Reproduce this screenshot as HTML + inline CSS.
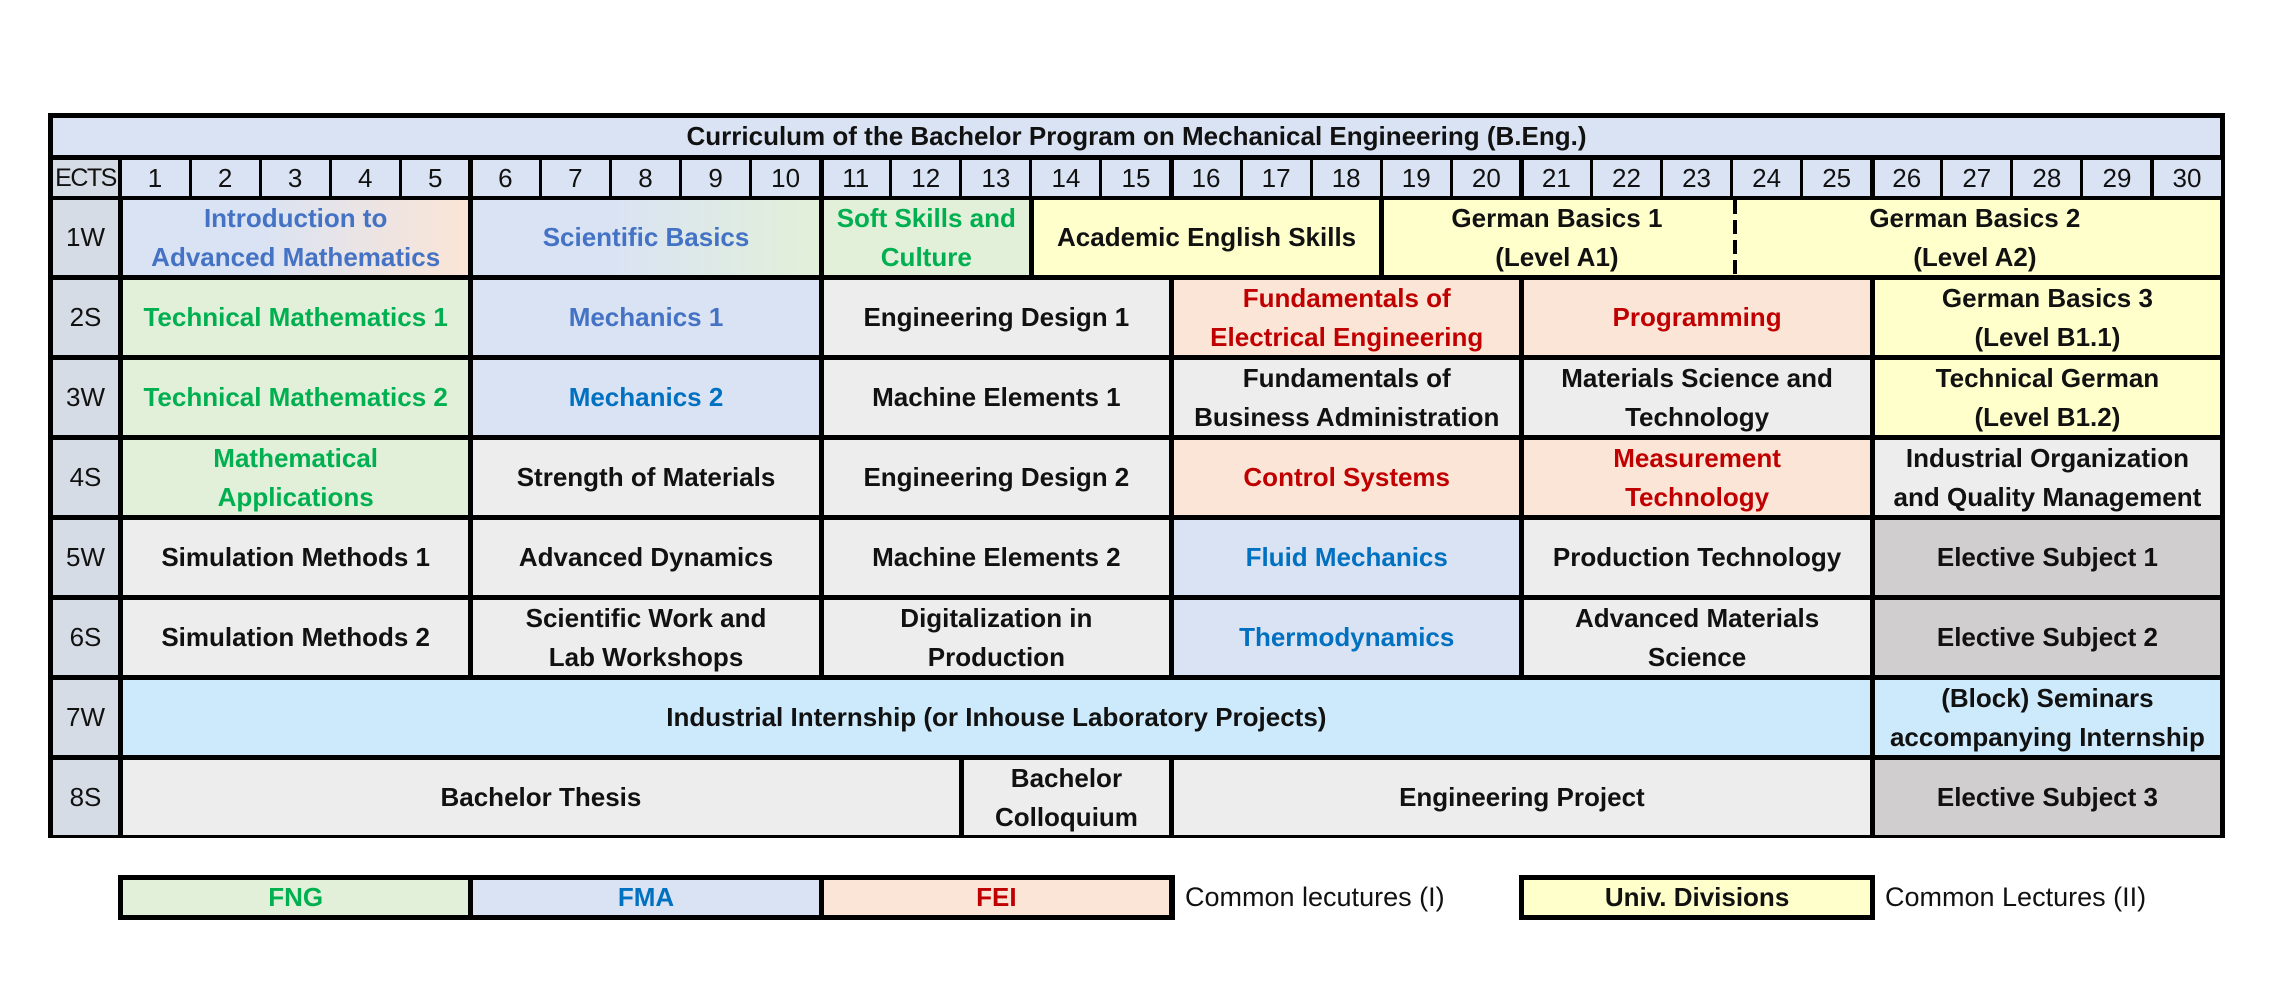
<!DOCTYPE html>
<html><head><meta charset="utf-8"><style>
body{margin:0;width:2287px;height:1003px;background:#fff;position:relative;overflow:hidden;font-family:"Liberation Sans",sans-serif}
div{box-sizing:border-box}
.k{position:absolute;background:#000}
.c{position:absolute;left:calc(123px + var(--a)*70.07px);width:calc((var(--b) - var(--a))*70.07px - 5px);top:calc(200px + var(--r)*80px);height:75px;display:flex;align-items:center;justify-content:center;text-align:center;font-weight:bold;font-size:26px;line-height:39px;background:#ededed;color:#111;white-space:nowrap}
.h{position:absolute;top:160px;height:36px;left:calc(121.5px + var(--a)*70.07px);width:67px;background:#dae3f3;display:flex;align-items:center;justify-content:center;font-size:26px;color:#111}
.l{position:absolute;left:53px;width:65px;top:calc(200px + var(--r)*80px);height:75px;background:#d6dce5;display:flex;align-items:center;justify-content:center;font-size:26px;color:#111}
.g{background:#e2f0d9;color:#00b050}.b{background:#dae3f3;color:#4472c4}.b2{background:#dae3f3;color:#0070c0}
.p{background:#fbe5d6;color:#c00000}.y{background:#ffffcc}.d{background:#d0cece}.lb{background:#cdeafc}
.bar{position:absolute;top:155px;height:46px;width:5px;background:#000;left:calc(118px + var(--a)*70.07px)}
.t{position:absolute;font-size:27px;color:#111;top:880px;height:35px;line-height:35px}
</style></head><body>
<div class="k" style="left:48px;top:113px;width:2177px;height:725px"></div>
<div style="position:absolute;left:53px;top:118px;width:2167px;height:37px;background:#dae3f3;display:flex;align-items:center;justify-content:center;font-weight:bold;font-size:26px;color:#111">Curriculum of the Bachelor Program on Mechanical Engineering (B.Eng.)</div>
<div style="position:absolute;left:53px;top:160px;width:65px;height:36px;background:#d6dce5;display:flex;align-items:center;justify-content:center;font-size:25px;color:#111;letter-spacing:-1.5px">ECTS</div>
<div class="h" style="--a:0">1</div><div class="h" style="--a:1">2</div><div class="h" style="--a:2">3</div><div class="h" style="--a:3">4</div><div class="h" style="--a:4">5</div>
<div class="h" style="--a:5">6</div><div class="h" style="--a:6">7</div><div class="h" style="--a:7">8</div><div class="h" style="--a:8">9</div><div class="h" style="--a:9">10</div>
<div class="h" style="--a:10">11</div><div class="h" style="--a:11">12</div><div class="h" style="--a:12">13</div><div class="h" style="--a:13">14</div><div class="h" style="--a:14">15</div>
<div class="h" style="--a:15">16</div><div class="h" style="--a:16">17</div><div class="h" style="--a:17">18</div><div class="h" style="--a:18">19</div><div class="h" style="--a:19">20</div>
<div class="h" style="--a:20">21</div><div class="h" style="--a:21">22</div><div class="h" style="--a:22">23</div><div class="h" style="--a:23">24</div><div class="h" style="--a:24">25</div>
<div class="h" style="--a:25">26</div><div class="h" style="--a:26">27</div><div class="h" style="--a:27">28</div><div class="h" style="--a:28">29</div><div class="h" style="--a:29">30</div>
<div class="bar" style="--a:5"></div><div class="bar" style="--a:10"></div><div class="bar" style="--a:15"></div><div class="bar" style="--a:20"></div><div class="bar" style="--a:25"></div>

<div class="l" style="--r:0">1W</div><div class="l" style="--r:1">2S</div><div class="l" style="--r:2">3W</div><div class="l" style="--r:3">4S</div>
<div class="l" style="--r:4">5W</div><div class="l" style="--r:5">6S</div><div class="l" style="--r:6">7W</div><div class="l" style="--r:7">8S</div>

<div class="c b" style="--r:0;--a:0;--b:5;background:linear-gradient(90deg,#dae3f3 40%,#fbe5d6)">Introduction to<br>Advanced Mathematics</div>
<div class="c b" style="--r:0;--a:5;--b:10;background:linear-gradient(90deg,#dae3f3 40%,#e2f0d9)">Scientific Basics</div>
<div class="c g" style="--r:0;--a:10;--b:13">Soft Skills and<br>Culture</div>
<div class="c y" style="--r:0;--a:13;--b:18">Academic English Skills</div>
<div class="c y" style="--r:0;--a:18;--b:30;justify-content:flex-start;padding:0"><div style="width:calc(5*70.07px - 5px);text-align:center">German Basics 1<br>(Level A1)</div><div style="width:calc(7*70.07px);text-align:center">German Basics 2<br>(Level A2)</div></div>
<div style="position:absolute;left:calc(121px + 23*70.07px);top:200px;width:4px;height:75px;background:repeating-linear-gradient(180deg,#000 0 14px,transparent 14px 20px)"></div>

<div class="c g" style="--r:1;--a:0;--b:5">Technical Mathematics 1</div>
<div class="c b" style="--r:1;--a:5;--b:10">Mechanics 1</div>
<div class="c" style="--r:1;--a:10;--b:15">Engineering Design 1</div>
<div class="c p" style="--r:1;--a:15;--b:20">Fundamentals of<br>Electrical Engineering</div>
<div class="c p" style="--r:1;--a:20;--b:25">Programming</div>
<div class="c y" style="--r:1;--a:25;--b:30">German Basics 3<br>(Level B1.1)</div>

<div class="c g" style="--r:2;--a:0;--b:5">Technical Mathematics 2</div>
<div class="c b2" style="--r:2;--a:5;--b:10">Mechanics 2</div>
<div class="c" style="--r:2;--a:10;--b:15">Machine Elements 1</div>
<div class="c" style="--r:2;--a:15;--b:20">Fundamentals of<br>Business Administration</div>
<div class="c" style="--r:2;--a:20;--b:25">Materials Science and<br>Technology</div>
<div class="c y" style="--r:2;--a:25;--b:30">Technical German<br>(Level B1.2)</div>

<div class="c g" style="--r:3;--a:0;--b:5">Mathematical<br>Applications</div>
<div class="c" style="--r:3;--a:5;--b:10">Strength of Materials</div>
<div class="c" style="--r:3;--a:10;--b:15">Engineering Design 2</div>
<div class="c p" style="--r:3;--a:15;--b:20">Control Systems</div>
<div class="c p" style="--r:3;--a:20;--b:25">Measurement<br>Technology</div>
<div class="c" style="--r:3;--a:25;--b:30">Industrial Organization<br>and Quality Management</div>

<div class="c" style="--r:4;--a:0;--b:5">Simulation Methods 1</div>
<div class="c" style="--r:4;--a:5;--b:10">Advanced Dynamics</div>
<div class="c" style="--r:4;--a:10;--b:15">Machine Elements 2</div>
<div class="c b2" style="--r:4;--a:15;--b:20">Fluid Mechanics</div>
<div class="c" style="--r:4;--a:20;--b:25">Production Technology</div>
<div class="c d" style="--r:4;--a:25;--b:30">Elective Subject 1</div>

<div class="c" style="--r:5;--a:0;--b:5">Simulation Methods 2</div>
<div class="c" style="--r:5;--a:5;--b:10">Scientific Work and<br>Lab Workshops</div>
<div class="c" style="--r:5;--a:10;--b:15">Digitalization in<br>Production</div>
<div class="c b2" style="--r:5;--a:15;--b:20">Thermodynamics</div>
<div class="c" style="--r:5;--a:20;--b:25">Advanced Materials<br>Science</div>
<div class="c d" style="--r:5;--a:25;--b:30">Elective Subject 2</div>

<div class="c lb" style="--r:6;--a:0;--b:25">Industrial Internship (or Inhouse Laboratory Projects)</div>
<div class="c lb" style="--r:6;--a:25;--b:30">(Block) Seminars<br>accompanying Internship</div>

<div class="c" style="--r:7;--a:0;--b:12">Bachelor Thesis</div>
<div class="c" style="--r:7;--a:12;--b:15">Bachelor<br>Colloquium</div>
<div class="c" style="--r:7;--a:15;--b:25">Engineering Project</div>
<div class="c d" style="--r:7;--a:25;--b:30">Elective Subject 3</div>

<div class="k" style="left:118px;top:875px;width:1057px;height:45px"></div>
<div class="c g" style="--r:8.5;--a:0;--b:5;top:880px;height:35px">FNG</div>
<div class="c b2" style="--r:8.5;--a:5;--b:10;top:880px;height:35px">FMA</div>
<div class="c p" style="--r:8.5;--a:10;--b:15;top:880px;height:35px">FEI</div>
<div class="t" style="left:1185px">Common lecutures (I)</div>
<div class="k" style="left:1519px;top:875px;width:356px;height:45px"></div>
<div class="c y" style="--r:8.5;--a:20;--b:25;top:880px;height:35px">Univ. Divisions</div>
<div class="t" style="left:1885px">Common Lectures (II)</div>
</body></html>
